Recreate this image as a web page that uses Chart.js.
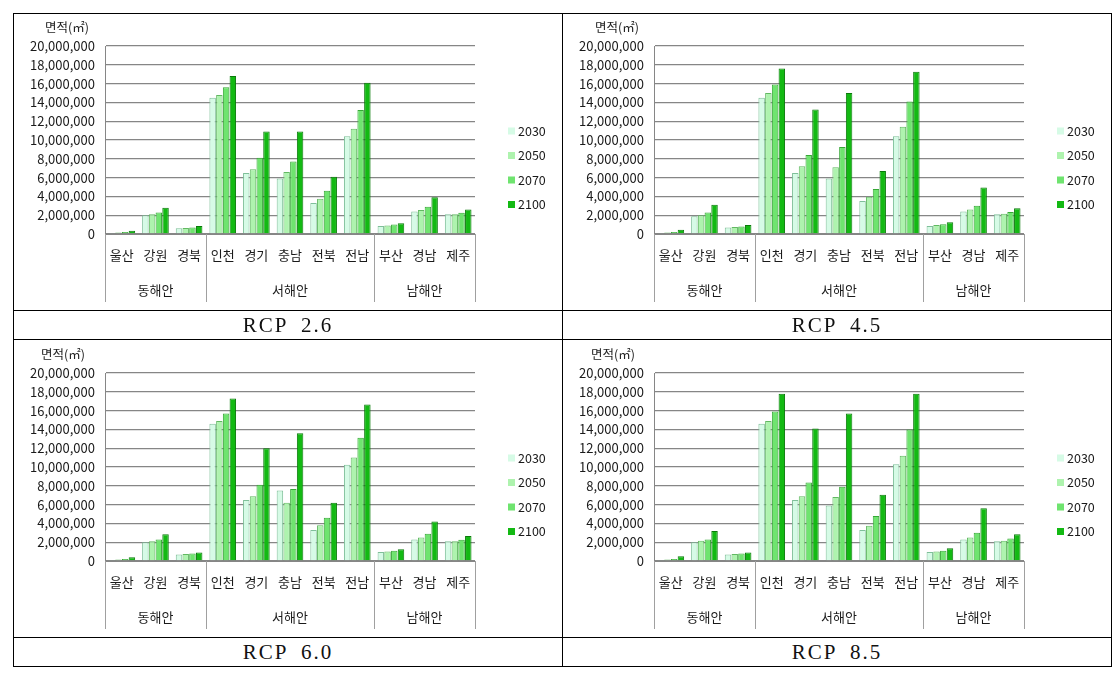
<!DOCTYPE html>
<html>
<head>
<meta charset="utf-8">
<script src="https://cdn.jsdelivr.net/npm/chart.js@4.4.1/dist/chart.umd.min.js"></script>
<style>
body { margin: 0; background: #fff; width: 1118px; height: 676px; position: relative; overflow: hidden; font-family: "Noto Sans CJK KR", sans-serif; }
.hl { position: absolute; left: 13px; width: 1099px; height: 1px; background: #000; }
.vl { position: absolute; top: 13px; height: 654px; width: 1px; background: #000; }
canvas { position: absolute; }
.cap { position: absolute; width: 548px; height: 28px; line-height: 28px; text-align: center;
       font-family: "Liberation Serif", serif; font-size: 21px; letter-spacing: 2px; word-spacing: 6px; color: #111; }
.unit { position: absolute; font-size: 12.5px; color: #222; }
</style>
</head>
<body>
<div class="hl" style="top:13px"></div>
<div class="hl" style="top:310px"></div>
<div class="hl" style="top:339px"></div>
<div class="hl" style="top:637px"></div>
<div class="hl" style="top:666px"></div>
<div class="vl" style="left:13px"></div>
<div class="vl" style="left:562px"></div>
<div class="vl" style="left:1111px"></div>

<canvas id="c26" width="547" height="295" style="left:14px;top:14px"></canvas>
<canvas id="c45" width="547" height="295" style="left:563px;top:14px"></canvas>
<canvas id="c60" width="547" height="295" style="left:14px;top:341px"></canvas>
<canvas id="c85" width="547" height="295" style="left:563px;top:341px"></canvas>

<div class="unit" style="left:45px;top:17px">면적(㎡)</div>
<div class="unit" style="left:595px;top:17px">면적(㎡)</div>
<div class="unit" style="left:41px;top:344px">면적(㎡)</div>
<div class="unit" style="left:591px;top:344px">면적(㎡)</div>

<div class="cap" style="left:14px;top:311px">RCP 2.6</div>
<div class="cap" style="left:563px;top:311px">RCP 4.5</div>
<div class="cap" style="left:14px;top:638px">RCP 6.0</div>
<div class="cap" style="left:563px;top:638px">RCP 8.5</div>

<script>
const regions = ["울산", "강원", "경북", "인천", "경기", "충남", "전북", "전남", "부산", "경남", "제주"];
const groupNames = ["동해안", "서해안", "남해안"];
const groupSizes = [3, 5, 3];
const years = ["2030", "2050", "2070", "2100"];

// 면적(㎡), 지역 순서는 regions 와 동일
const rcp26_2030 = [100000, 2000000, 600000, 14500000, 6500000, 5900000, 3300000, 10400000, 850000, 2400000, 2100000];
const rcp26_2050 = [150000, 2100000, 650000, 14800000, 6900000, 6600000, 3750000, 11200000, 900000, 2550000, 2100000];
const rcp26_2070 = [200000, 2300000, 700000, 15600000, 8100000, 7700000, 4600000, 13200000, 1000000, 2900000, 2250000];
const rcp26_2100 = [350000, 2800000, 850000, 16800000, 10900000, 10900000, 6100000, 16100000, 1150000, 3900000, 2600000];

const rcp45_2030 = [100000, 1900000, 700000, 14500000, 6500000, 5900000, 3500000, 10400000, 860000, 2400000, 2100000];
const rcp45_2050 = [150000, 2000000, 750000, 15000000, 7200000, 7100000, 3950000, 11400000, 950000, 2600000, 2150000];
const rcp45_2070 = [200000, 2300000, 800000, 15900000, 8400000, 9250000, 4800000, 14100000, 1050000, 3000000, 2350000];
const rcp45_2100 = [450000, 3100000, 950000, 17600000, 13250000, 15000000, 6700000, 17250000, 1250000, 4950000, 2750000];

const rcp60_2030 = [100000, 2000000, 700000, 14600000, 6500000, 7500000, 3300000, 10250000, 950000, 2300000, 2100000];
const rcp60_2050 = [150000, 2100000, 750000, 14900000, 6900000, 6200000, 3800000, 11000000, 1000000, 2500000, 2100000];
const rcp60_2070 = [200000, 2300000, 800000, 15700000, 8100000, 7650000, 4600000, 13100000, 1100000, 2900000, 2250000];
const rcp60_2100 = [400000, 2850000, 900000, 17300000, 12000000, 13600000, 6200000, 16650000, 1250000, 4200000, 2650000];

const rcp85_2030 = [100000, 2000000, 700000, 14600000, 6500000, 5900000, 3300000, 10300000, 950000, 2300000, 2100000];
const rcp85_2050 = [150000, 2150000, 750000, 14900000, 6900000, 6800000, 3750000, 11200000, 1000000, 2500000, 2150000];
const rcp85_2070 = [200000, 2300000, 800000, 15900000, 8350000, 7900000, 4800000, 14000000, 1100000, 3000000, 2400000];
const rcp85_2100 = [500000, 3200000, 900000, 17800000, 14100000, 15700000, 7050000, 17800000, 1350000, 5600000, 2850000];

const fills = ["#d6fbe6", "#aef3ae", "#6fe46f", "#13b913"];
const edges = ["#7fbf99", "#62b862", "#36a836", "#0a7a0a"];
const FONT = '"Noto Sans CJK KR", sans-serif';
const GRID = "#868686";

// 지역 아래 해안 구분선과 이름
const groupPlugin = {
   id: "groups",
   afterDraw(chart) {
      const ctx = chart.ctx;
      const x = chart.scales.x;
      const area = chart.chartArea;
      const step = x.getPixelForValue(1) - x.getPixelForValue(0);
      const top = area.bottom, bot = area.bottom + 68;
      ctx.save();
      ctx.strokeStyle = "#a0a0a0";
      ctx.lineWidth = 1;
      ctx.fillStyle = "#1a1a1a";
      ctx.font = "13px " + FONT;
      ctx.textAlign = "center";
      ctx.textBaseline = "middle";
      let start = 0;
      groupNames.forEach((name, k) => {
         const end = start + groupSizes[k] - 1;
         const l = x.getPixelForValue(start) - step / 2;
         const r = x.getPixelForValue(end) + step / 2;
         [l, r].forEach(px => {
            ctx.beginPath();
            ctx.moveTo(Math.round(px) + 0.5, top);
            ctx.lineTo(Math.round(px) + 0.5, bot);
            ctx.stroke();
         });
         ctx.fillText(name, (l + r) / 2, area.bottom + 56);
         start += groupSizes[k];
      });
      ctx.restore();
   }
};

// 오른쪽 범례
const legendPlugin = {
   id: "sideLegend",
   afterDraw(chart) {
      const ctx = chart.ctx;
      const area = chart.chartArea;
      const x0 = area.right + 33;
      ctx.save();
      ctx.font = "12.5px " + FONT;
      ctx.textBaseline = "middle";
      ctx.textAlign = "left";
      chart.data.datasets.forEach((ds, i) => {
         const y = area.top + 85 + i * 24.5;
         ctx.fillStyle = ds.backgroundColor;
         ctx.fillRect(x0, y - 3.5, 7, 7);
         ctx.fillStyle = "#1a1a1a";
         ctx.fillText(ds.label, x0 + 10, y);
      });
      ctx.restore();
   }
};

function makeChart(id, series) {
   const datasets = years.map((y, i) => ({
      label: y,
      data: series[i],
      backgroundColor: fills[i],
      borderColor: edges[i],
      borderWidth: 1,
      categoryPercentage: 0.8,
      barPercentage: 0.96
   }));
   return new Chart(id, {
      type: "bar",
      data: { labels: regions, datasets: datasets },
      options: {
         responsive: false,
         animation: false,
         devicePixelRatio: 1,
         layout: { padding: { top: 32, right: 86, left: 0, bottom: 0 } },
         plugins: { legend: { display: false }, tooltip: { enabled: false } },
         scales: {
            x: {
               grid: { display: false, drawTicks: false },
               border: { color: GRID },
               ticks: { font: { family: FONT, size: 13 }, color: "#1a1a1a", padding: 13, maxRotation: 0, autoSkip: false },
               afterFit: s => { s.height = 75; }
            },
            y: {
               min: 0,
               max: 20000000,
               grid: { color: GRID, lineWidth: 1.3, drawTicks: false },
               border: { color: GRID },
               ticks: {
                  stepSize: 2000000,
                  padding: 10,
                  color: "#1a1a1a",
                  font: { family: FONT, size: 13 },
                  callback: v => v.toLocaleString("en-US")
               },
               afterFit: s => { s.width = 91; }
            }
         }
      },
      plugins: [groupPlugin, legendPlugin]
   });
}

makeChart("c26", [rcp26_2030, rcp26_2050, rcp26_2070, rcp26_2100]);
makeChart("c45", [rcp45_2030, rcp45_2050, rcp45_2070, rcp45_2100]);
makeChart("c60", [rcp60_2030, rcp60_2050, rcp60_2070, rcp60_2100]);
makeChart("c85", [rcp85_2030, rcp85_2050, rcp85_2070, rcp85_2100]);
</script>
</body>
</html>
